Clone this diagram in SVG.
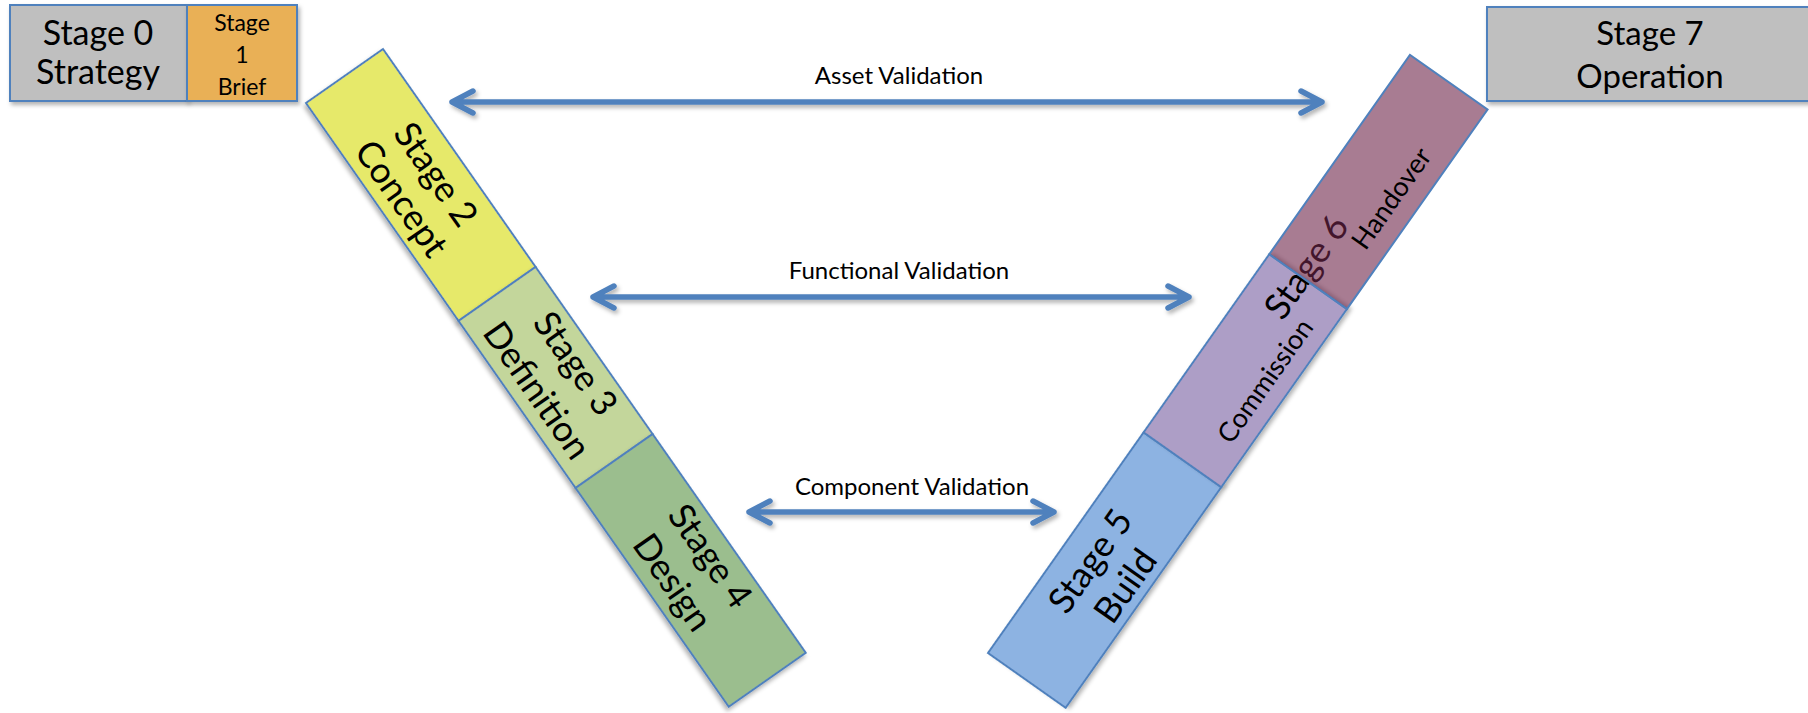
<svg xmlns="http://www.w3.org/2000/svg" width="1808" height="713" viewBox="0 0 1808 713">
<style>
.box{stroke:#4F81BD;stroke-width:2}
.t{font-family:Lato,"Open Sans","Liberation Sans",sans-serif;fill:#000;text-anchor:middle}
.band{font-size:36px}
.lbl{font-size:24px}
.arr{stroke:#4F81BD;stroke-width:5.5;fill:none;stroke-linecap:round;stroke-linejoin:round}
</style>
<defs>
<filter id="sh" x="-10%" y="-10%" width="130%" height="130%">
<feDropShadow dx="2" dy="3" stdDeviation="2" flood-color="#000" flood-opacity="0.3"/>
</filter>
</defs>
<rect width="1808" height="713" fill="#fff"/>

<g id="stage0">
<rect class="box" x="10" y="5" width="177" height="96" fill="#BFBFBF" filter="url(#sh)"/>
<text class="t" x="98" y="45" font-size="34">Stage 0</text>
<text class="t" x="98" y="84" font-size="34">Strategy</text>
</g>
<g id="stage1">
<rect class="box" x="187" y="5" width="110" height="96" fill="#E9B057" filter="url(#sh)"/>
<text class="t" x="242" y="31" font-size="23">Stage</text>
<text class="t" x="242" y="63" font-size="23">1</text>
<text class="t" x="242" y="95" font-size="23">Brief</text>
</g>

<g id="left-band" transform="translate(306,103) rotate(55)">
<g id="stage2">
<rect class="box" x="0" y="-94" width="266" height="94" fill="#E6E96B" filter="url(#sh)"/>
<text class="t band" x="133" y="-53">Stage 2</text>
<text class="t band" x="133" y="-11">Concept</text>
</g>
<g id="stage3">
<rect class="box" x="266" y="-94" width="204" height="94" fill="#C3D69B" filter="url(#sh)"/>
<text class="t band" x="368" y="-59">Stage 3</text>
<text class="t band" x="368" y="-12">Definition</text>
</g>
<g id="stage4">
<rect class="box" x="470" y="-94" width="267" height="94" fill="#9BBE8E" filter="url(#sh)"/>
<text class="t band" x="603" y="-59">Stage 4</text>
<text class="t band" x="603" y="-13">Design</text>
</g>
</g>

<g id="right-band" transform="translate(988,653) rotate(-54.8)">
<g id="stage5">
<rect class="box" x="0" y="0" width="270" height="95" fill="#8DB3E2" filter="url(#sh)"/>
<text class="t band" x="134" y="43">Stage 5</text>
<text class="t band" x="134" y="86">Build</text>
</g>
<g id="stage6-commission">
<rect class="box" x="270" y="0" width="218" height="95" fill="#AD9EC6" filter="url(#sh)"/>
<text class="t" x="382" y="79" font-size="27">Commission</text>
<text class="t band" x="499" y="50">Stage 6</text>
</g>
<g id="stage6-handover">
<rect x="488" y="0" width="244" height="95" fill="#6E2549" fill-opacity="0.6" stroke="#4F81BD" stroke-width="2"/>
<text class="t" x="604" y="77" font-size="27">Handover</text>
</g>
</g>

<g id="stage7">
<rect class="box" x="1487" y="7" width="330" height="94" fill="#BFBFBF" filter="url(#sh)"/>
<text class="t" x="1650" y="45" font-size="33">Stage 7</text>
<text class="t" x="1650" y="88" font-size="33">Operation</text>
</g>

<g id="connectors">
<g filter="url(#sh)">
<path class="arr" d="M452,102 H1322 M473,91 L452,102 L473,113 M1301,91 L1322,102 L1301,113"/>
<path class="arr" d="M593,297 H1189 M614,286 L593,297 L614,308 M1168,286 L1189,297 L1168,308"/>
<path class="arr" d="M749,512 H1054 M770,501 L749,512 L770,523 M1033,501 L1054,512 L1033,523"/>
</g>
<text class="t lbl" x="899" y="84">Asset Validation</text>
<text class="t lbl" x="899" y="279">Functional Validation</text>
<text class="t lbl" x="912" y="495">Component Validation</text>
</g>
</svg>
